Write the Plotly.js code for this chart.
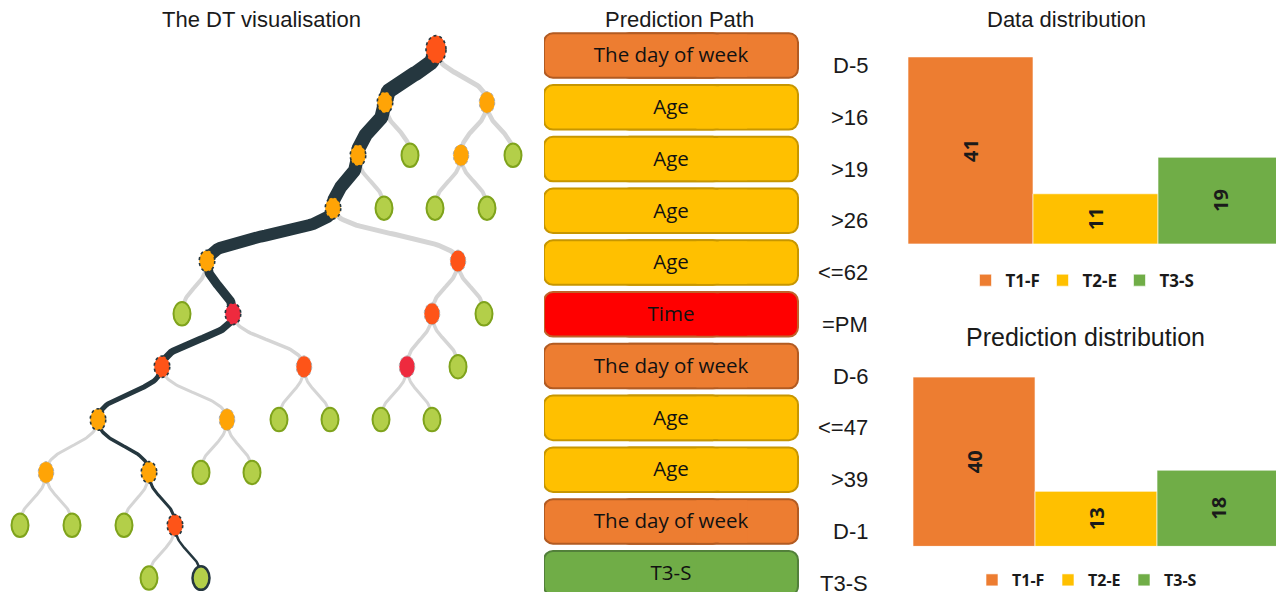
<!DOCTYPE html>
<html><head><meta charset="utf-8">
<script src="https://cdn.plot.ly/plotly-3.0.1.min.js"></script>
<style>html,body{margin:0;padding:0;background:#fff;overflow:hidden}#chart{width:1276px;height:597px}</style>
</head><body><div id="chart"></div>
<script>
// ---------- DATA ----------
// Decision tree (layout position of each node along the tree's horizontal axis, and its depth)
const nodeX = [436, 385, 487, 358, 410, 461, 513, 333, 384, 435, 487, 207, 458, 182, 233, 432, 484,
               162, 304, 407, 458, 98, 227, 279, 330, 381, 432, 46, 149, 201, 252, 20, 72, 124, 175, 149, 201];
const nodeDepth = [0, 1, 1, 2, 2, 2, 2, 3, 3, 3, 3, 4, 4, 5, 5, 5, 5,
                   6, 6, 6, 6, 7, 7, 7, 7, 7, 7, 8, 8, 8, 8, 9, 9, 9, 9, 10, 10];
const nodeParent = [-1, 0, 0, 1, 1, 2, 2, 3, 3, 5, 5, 7, 7, 11, 11, 12, 12,
                    14, 14, 15, 15, 17, 17, 18, 18, 19, 19, 21, 21, 22, 22, 27, 27, 28, 28, 34, 34];
const nodeFeature = ['day', 'age', 'age', 'age', 'leaf', 'age', 'leaf', 'age', 'leaf', 'leaf', 'leaf', 'age', 'day',
                     'leaf', 'time', 'day', 'leaf', 'day', 'day', 'time', 'leaf', 'age', 'age', 'leaf', 'leaf', 'leaf', 'leaf',
                     'age', 'age', 'leaf', 'leaf', 'leaf', 'leaf', 'leaf', 'day', 'leaf', 'leaf'];
const predictionPathNodes = [0, 1, 3, 7, 11, 14, 17, 21, 28, 34, 36];

// Prediction path
const pathFeatures = ['The day of week', 'Age', 'Age', 'Age', 'Age', 'Time', 'The day of week', 'Age', 'Age', 'The day of week', 'T3-S'];
const pathConditions = ['D-5', '>16', '>19', '>26', '<=62', '=PM', 'D-6', '<=47', '>39', 'D-1', 'T3-S'];

// Distributions
const classes = ['T1-F', 'T2-E', 'T3-S'];
const dataDistribution = [41, 11, 19];
const predictionDistribution = [40, 13, 18];

// ---------- STYLE ----------
const featureFill = {day: '#fe5418', age: '#ffa406', time: '#ee2a3e', leaf: '#b3cf49'};
const boxFill = {'The day of week': '#ed7d31', 'Age': '#ffc000', 'Time': '#ff0000', 'T3-S': '#70ad47'};
const boxLine = {'The day of week': '#b25b22', 'Age': '#c79600', 'Time': '#c0622a', 'T3-S': '#52803a'};
const classColors = ['#ed7d31', '#ffc000', '#70ad47'];
const pathEdgeWidth = [0, 15, 14, 13, 12, 9, 7, 5, 3.5, 3, 2.5];
const otherEdgeWidth = [0, 5, 4.5, 4, 5, 4, 3.5, 3, 3, 3, 3];
const PX_PER_DEPTH = 53.3;

const onPath = new Set(predictionPathNodes);
const traces = [];

// ---------- TREE EDGES ----------
function edgeCurve(i) {
  const p = nodeParent[i];
  const x0 = nodeX[p], y0 = nodeDepth[p] * PX_PER_DEPTH;
  const x3 = nodeX[i], y3 = nodeDepth[i] * PX_PER_DEPTH;
  const ym = (y0 + y3) / 2;
  const xs = [], ys = [];
  for (let k = 0; k <= 40; k++) {
    const t = k / 40, u = 1 - t;
    const bx = u*u*u*x0 + 3*u*u*t*x0 + 3*u*t*t*x3 + t*t*t*x3;
    const by = u*u*u*y0 + 3*u*u*t*ym + 3*u*t*t*ym + t*t*t*y3;
    xs.push(bx); ys.push(by / PX_PER_DEPTH);
  }
  return {xs, ys};
}
const grayEdges = [], darkEdges = [];
for (let i = 0; i < nodeX.length; i++) {
  if (nodeParent[i] < 0) continue;
  (onPath.has(i) && onPath.has(nodeParent[i]) ? darkEdges : grayEdges).push(i);
}
grayEdges.forEach(i => {
  const c = edgeCurve(i);
  traces.push({type: 'scatter', mode: 'lines', x: c.xs, y: c.ys, xaxis: 'x', yaxis: 'y',
    line: {color: '#d5d5d5', width: otherEdgeWidth[nodeDepth[i]]}, hoverinfo: 'skip', showlegend: false});
});
darkEdges.forEach(i => {
  const c = edgeCurve(i);
  traces.push({type: 'scatter', mode: 'lines', x: c.xs, y: c.ys, xaxis: 'x', yaxis: 'y',
    line: {color: '#25373f', width: pathEdgeWidth[nodeDepth[i]]}, hoverinfo: 'skip', showlegend: false});
});
// hover points for nodes
traces.push({type: 'scatter', mode: 'markers', x: nodeX, y: nodeDepth, xaxis: 'x', yaxis: 'y',
  marker: {size: 18, color: 'rgba(0,0,0,0)'}, text: nodeFeature, hoverinfo: 'text', showlegend: false});

// ---------- NODE SHAPES ----------
const shapes = [];
nodeX.forEach((x, i) => {
  const f = nodeFeature[i];
  const isRoot = nodeParent[i] < 0;
  const w = isRoot ? 20 : (f === 'leaf' ? 17 : 15.5);
  const h = isRoot ? 28 : (f === 'leaf' ? 23.5 : 21.5);
  let line;
  if (f === 'leaf') {
    line = onPath.has(i) ? {color: '#25373f', width: 2.5} : {color: '#7fa31c', width: 2};
  } else {
    line = onPath.has(i) ? {color: '#25373f', width: 1.6, dash: 'dot'} : {color: '#a8a8a8', width: 1, dash: 'dot'};
  }
  shapes.push({type: 'circle', xref: 'x', yref: 'y', xsizemode: 'pixel', ysizemode: 'pixel',
    xanchor: x, yanchor: nodeDepth[i], x0: -w/2, x1: w/2, y0: -h/2, y1: h/2,
    fillcolor: featureFill[f], line: line, layer: 'above'});
});

// ---------- PREDICTION PATH (rounded boxes from two overlapping bars + a cover) ----------
const rows = pathFeatures.map((_, i) => i);
const fills = pathFeatures.map(f => boxFill[f]);
const lines = pathFeatures.map(f => boxLine[f]);
// right part: rounded at its right end
traces.push({type: 'bar', orientation: 'h', xaxis: 'x2', yaxis: 'y2',
  y: rows, x: rows.map(() => 0.7), base: 0.3, width: 0.86,
  marker: {color: fills, line: {color: lines, width: 2}, cornerradius: 9},
  hoverinfo: 'skip', showlegend: false});
// left part: drawn leftwards, rounded at its left end
traces.push({type: 'bar', orientation: 'h', xaxis: 'x2', yaxis: 'y2',
  y: rows, x: rows.map(() => -0.7), base: 0.7, width: 0.86,
  marker: {color: fills, line: {color: lines, width: 2}, cornerradius: 9},
  hoverinfo: 'skip', showlegend: false});
// cover hiding the inner seam
traces.push({type: 'bar', orientation: 'h', xaxis: 'x2', yaxis: 'y2',
  y: rows, x: rows.map(() => 0.2), base: 0.6, width: 0.815,
  marker: {color: fills, line: {width: 0}},
  hoverinfo: 'skip', showlegend: false});
traces.push({type: 'scatter', mode: 'text', xaxis: 'x2', yaxis: 'y2',
  x: rows.map(() => 0.5), y: rows.map(r => r + 0.03), text: pathFeatures, textposition: 'middle center',
  textfont: {family: 'Open Sans, sans-serif', size: 20.5, color: '#111'},
  hovertext: pathFeatures.map((f, i) => f + ' ' + pathConditions[i]), hoverinfo: 'text', showlegend: false});

const annotations = pathConditions.map((c, i) => ({xref: 'x2', yref: 'y2', x: 1.2835, y: i, yshift: -10,
  text: c, xanchor: 'right', yanchor: 'middle', showarrow: false,
  font: {family: 'Liberation Sans, Arial, sans-serif', size: 22, color: '#1a1a1a'}}));

// ---------- DISTRIBUTIONS ----------
const valueFont = {family: 'Noto Sans, sans-serif', size: 20, color: '#1a1a1a', weight: 'bold'};
classes.forEach((c, k) => {
  traces.push({type: 'bar', x: [c], y: [dataDistribution[k]], xaxis: 'x3', yaxis: 'y3', name: c, width: 1,
    legend: 'legend', texttemplate: '<b>%{y}</b>', textposition: 'inside', insidetextanchor: 'middle',
    textangle: -90, constraintext: 'none', textfont: valueFont,
    marker: {color: classColors[k], line: {color: 'rgba(255,255,255,0.6)', width: 1}}});
});
classes.forEach((c, k) => {
  traces.push({type: 'bar', x: [c], y: [predictionDistribution[k]], xaxis: 'x4', yaxis: 'y4', name: c, width: 1,
    legend: 'legend2', texttemplate: '<b>%{y}</b>', textposition: 'inside', insidetextanchor: 'middle',
    textangle: -90, constraintext: 'none', textfont: valueFont,
    marker: {color: classColors[k], line: {color: 'rgba(255,255,255,0.6)', width: 1}}});
});

const titleFont = {family: 'Liberation Sans, Arial, sans-serif', color: '#1a1a1a'};
annotations.push(
  {xref: 'paper', yref: 'paper', x: 261/1276, y: 1 - 20/597, text: 'The DT visualisation', showarrow: false,
   xanchor: 'center', yanchor: 'middle', font: Object.assign({size: 22}, titleFont)},
  {xref: 'paper', yref: 'paper', x: 679/1276, y: 1 - 20/597, text: 'Prediction Path', showarrow: false,
   xanchor: 'center', yanchor: 'middle', font: Object.assign({size: 22}, titleFont)},
  {xref: 'paper', yref: 'paper', x: 1066/1276, y: 1 - 20/597, text: 'Data distribution', showarrow: false,
   xanchor: 'center', yanchor: 'middle', font: Object.assign({size: 22}, titleFont)},
  {xref: 'paper', yref: 'paper', x: 1085/1276, y: 1 - 340/597, text: 'Prediction distribution', showarrow: false,
   xanchor: 'center', yanchor: 'middle', font: Object.assign({size: 25}, titleFont)}
);

const hidden = {visible: false, fixedrange: true};
const legendBase = {orientation: 'h', xanchor: 'center', yanchor: 'middle', entrywidthmode: 'pixels',
  bgcolor: 'rgba(0,0,0,0)', itemclick: false, itemdoubleclick: false, itemwidth: 30};

const layout = {
  width: 1276, height: 597, margin: {l: 0, r: 0, t: 0, b: 0},
  paper_bgcolor: '#fff', plot_bgcolor: 'rgba(0,0,0,0)', barmode: 'overlay', hovermode: 'closest',
  showlegend: true,
  xaxis: Object.assign({domain: [0, 530/1276], range: [0, 530]}, hidden),
  yaxis: Object.assign({domain: [0, 1], range: [10.263, -0.938]}, hidden),
  xaxis2: Object.assign({domain: [544/1276, 870/1276], range: [0, 1.2835], anchor: 'y2'}, hidden),
  yaxis2: Object.assign({domain: [0, 0.9499], range: [10.364, -0.5], anchor: 'x2'}, hidden),
  xaxis3: Object.assign({domain: [908/1276, 1], range: [-0.5, 2.444], anchor: 'y3', type: 'category',
    categoryorder: 'array', categoryarray: classes}, hidden),
  yaxis3: Object.assign({domain: [0.5879, 0.9347], range: [0, 45], anchor: 'x3'}, hidden),
  xaxis4: Object.assign({domain: [913/1276, 1], range: [-0.5, 2.475], anchor: 'y4', type: 'category',
    categoryorder: 'array', categoryarray: classes}, hidden),
  yaxis4: Object.assign({domain: [0.0771, 0.3987], range: [0, 45], anchor: 'x4'}, hidden),
  legend: Object.assign({x: 1081/1276, y: 1 - 283/597, entrywidth: 32,
    font: {family: 'Noto Sans, sans-serif', size: 17, color: '#1a1a1a', weight: 'bold'}}, legendBase),
  legend2: Object.assign({x: 1086/1276, y: 1 - 585/597, entrywidth: 31,
    font: {family: 'Noto Sans, sans-serif', size: 16, color: '#1a1a1a', weight: 'bold'}}, legendBase),
  shapes: shapes,
  annotations: annotations
};

Plotly.newPlot('chart', traces, layout, {displayModeBar: false, responsive: false});
</script>
</body></html>
